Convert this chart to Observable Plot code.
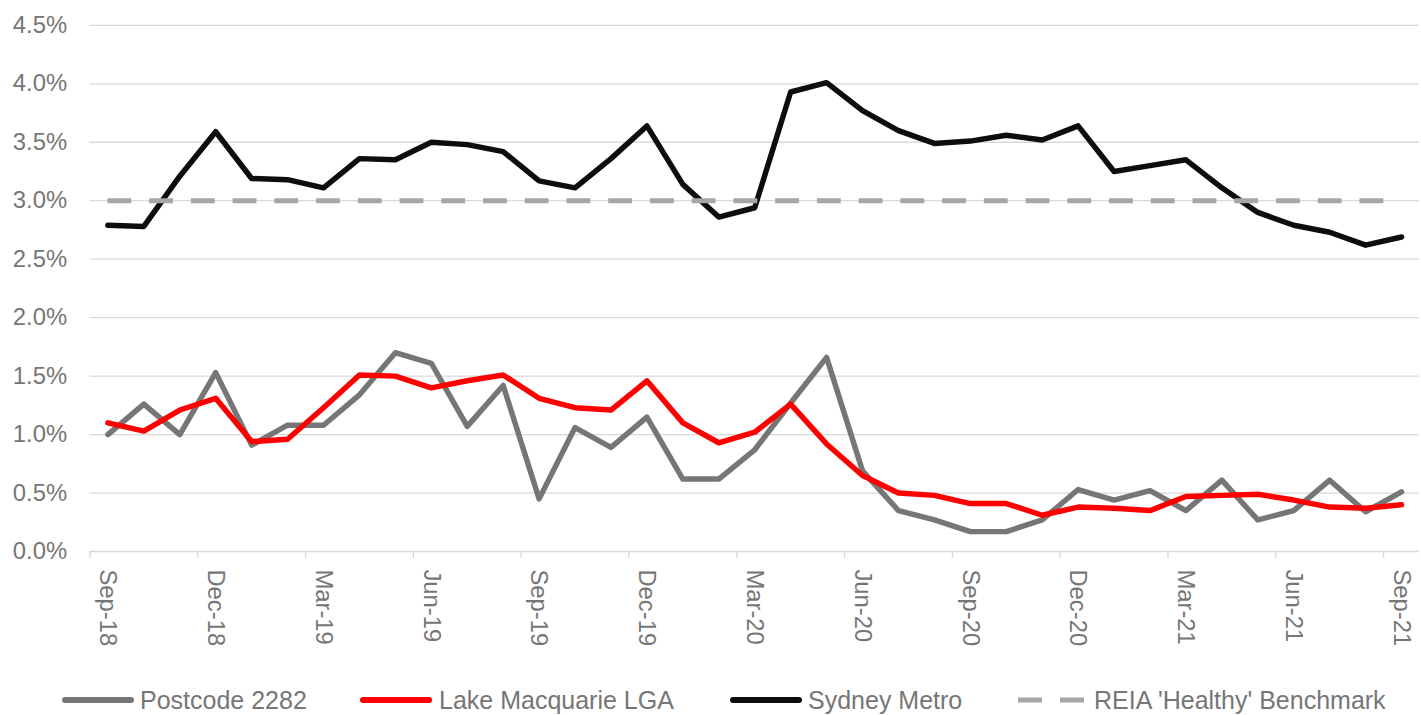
<!DOCTYPE html>
<html>
<head>
<meta charset="utf-8">
<script src="https://cdn.jsdelivr.net/npm/d3@7"></script>
<script src="https://cdn.jsdelivr.net/npm/@observablehq/plot@0.6"></script>
<style>
  html, body { margin: 0; padding: 0; background: #fff; overflow: hidden; width: 1421px; height: 715px; }
  #wrap { position: relative; width: 1421px; height: 715px; overflow: hidden; font-family: 'Liberation Sans', Arial, sans-serif; }
  #chart { position: absolute; left: 0; top: 0; }
  .lg-text { position: absolute; top: 688px; font-size: 25px; line-height: 25px; color: #767676; white-space: nowrap; }
  .lg-sw { position: absolute; top: 692px; }
</style>
</head>
<body>
<div id="wrap">
  <div id="chart"></div>
  <div id="legend"></div>
</div>
<script>
// ---- Data ----
const months = ["Sep-18","Oct-18","Nov-18","Dec-18","Jan-19","Feb-19","Mar-19","Apr-19","May-19","Jun-19","Jul-19","Aug-19",
  "Sep-19","Oct-19","Nov-19","Dec-19","Jan-20","Feb-20","Mar-20","Apr-20","May-20","Jun-20","Jul-20","Aug-20",
  "Sep-20","Oct-20","Nov-20","Dec-20","Jan-21","Feb-21","Mar-21","Apr-21","May-21","Jun-21","Jul-21","Aug-21","Sep-21"];

const tickLabels = ["Sep-18","Dec-18","Mar-19","Jun-19","Sep-19","Dec-19","Mar-20","Jun-20","Sep-20","Dec-20","Mar-21","Jun-21","Sep-21"];

const postcode2282 = [1.00,1.26,1.00,1.53,0.91,1.08,1.08,1.34,1.70,1.61,1.07,1.42,0.45,1.06,0.89,1.15,0.62,0.62,0.87,1.27,
  1.66,0.69,0.35,0.27,0.17,0.17,0.27,0.53,0.44,0.52,0.35,0.61,0.27,0.35,0.61,0.34,0.51];

const lakeMacquarie = [1.10,1.03,1.21,1.31,0.94,0.96,1.23,1.51,1.50,1.40,1.46,1.51,1.31,1.23,1.21,1.46,1.10,0.93,1.02,1.26,
  0.92,0.65,0.50,0.48,0.41,0.41,0.31,0.38,0.37,0.35,0.47,0.48,0.49,0.44,0.38,0.37,0.40];

const sydneyMetro = [2.79,2.78,3.21,3.59,3.19,3.18,3.11,3.36,3.35,3.50,3.48,3.42,3.17,3.11,3.36,3.64,3.14,2.86,2.94,3.93,
  4.01,3.77,3.60,3.49,3.51,3.56,3.52,3.64,3.25,3.30,3.35,3.11,2.90,2.79,2.73,2.62,2.69];

const benchmark = 3.0;

const yTicks = [0, 0.5, 1.0, 1.5, 2.0, 2.5, 3.0, 3.5, 4.0, 4.5];

const seriesNames = ["Postcode 2282", "Lake Macquarie LGA", "Sydney Metro", "REIA 'Healthy' Benchmark"];
const seriesColors = ["#767676", "#ff0000", "#0d0d0d", "#a6a6a6"];

// ---- Build table ----
const rows = months.map((m, i) => ({i, m, postcode: postcode2282[i], lake: lakeMacquarie[i], sydney: sydneyMetro[i]}));
const labelIdx = tickLabels.map(l => months.indexOf(l));
const boundaryTicks = labelIdx.map(i => i - 0.5);

const chart = Plot.plot({
  width: 1430,
  height: 690,
  marginLeft: 90,
  marginRight: 2,
  marginTop: 25,
  marginBottom: 135.5,
  style: {fontFamily: "'Liberation Sans', Arial, sans-serif", fontSize: "24px", color: "#767676", background: "white"},
  x: {type: "linear", domain: [-0.5, months.length - 0.5], label: null},
  y: {domain: [0, 4.5], label: null},
  marks: [
    Plot.ruleY(yTicks, {stroke: "#d9d9d9", strokeWidth: 1.3}),
    Plot.axisY({ticks: yTicks, tickSize: 0, tickPadding: 23, tickFormat: d => d.toFixed(1) + "%", fill: "#767676", fontSize: 24, label: null}),
    Plot.axisX({ticks: boundaryTicks, tickSize: 7, stroke: "#d9d9d9", strokeWidth: 1.3, tickFormat: () => "", label: null}),
    Plot.axisX({ticks: labelIdx, tickSize: 0, tickPadding: 18, tickRotate: 90, tickFormat: i => months[i], fill: "#767676", fontSize: 24, label: null}),
    Plot.line(rows, {x: "i", y: "postcode", stroke: seriesColors[0], strokeWidth: 5.5, strokeLinejoin: "round", strokeLinecap: "round"}),
    Plot.line(rows, {x: "i", y: "lake", stroke: seriesColors[1], strokeWidth: 5.5, strokeLinejoin: "round", strokeLinecap: "round"}),
    Plot.line(rows, {x: "i", y: "sydney", stroke: seriesColors[2], strokeWidth: 5.5, strokeLinejoin: "round", strokeLinecap: "round"}),
    Plot.ruleY([benchmark], {x1: 0, x2: months.length - 1, stroke: seriesColors[3], strokeWidth: 5, strokeDasharray: "24,18"})
  ]
});
document.getElementById("chart").appendChild(chart);

// ---- Legend (HTML below the plot) ----
const legendItems = [
  {sw: 62, tx: 140, dashed: false},
  {sw: 360, tx: 439, dashed: false},
  {sw: 730, tx: 808, dashed: false},
  {sw: 1018, tx: 1094, dashed: true}
];
const lg = document.getElementById("legend");
legendItems.forEach((it, k) => {
  const svgNS = "http://www.w3.org/2000/svg";
  const s = document.createElementNS(svgNS, "svg");
  s.setAttribute("class", "lg-sw");
  s.setAttribute("width", 74);
  s.setAttribute("height", 16);
  s.style.left = (it.sw - 2) + "px";
  const ln = document.createElementNS(svgNS, "line");
  ln.setAttribute("x1", it.dashed ? 2 : 5);
  ln.setAttribute("x2", it.dashed ? 69 : 71);
  ln.setAttribute("y1", 8);
  ln.setAttribute("y2", 8);
  ln.setAttribute("stroke", seriesColors[k]);
  ln.setAttribute("stroke-width", it.dashed ? 5 : 6);
  ln.setAttribute("stroke-linecap", it.dashed ? "butt" : "round");
  if (it.dashed) ln.setAttribute("stroke-dasharray", "24,18");
  s.appendChild(ln);
  lg.appendChild(s);
  const t = document.createElement("div");
  t.className = "lg-text";
  t.style.left = it.tx + "px";
  t.textContent = seriesNames[k];
  lg.appendChild(t);
});
</script>
</body>
</html>
